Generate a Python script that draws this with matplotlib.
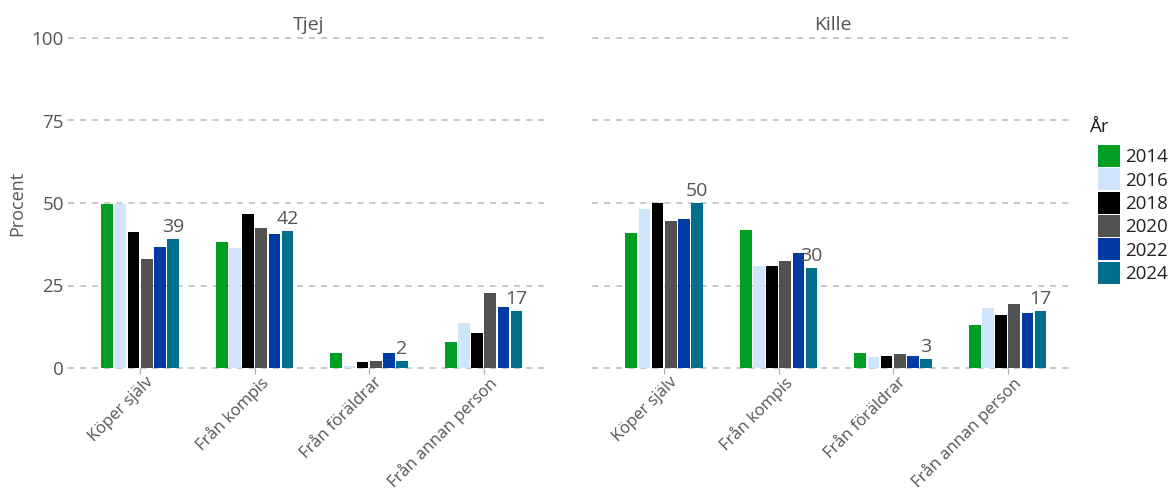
import matplotlib
matplotlib.use("Agg")
import matplotlib.pyplot as plt
import matplotlib.transforms as mtransforms
import numpy as np
from matplotlib.patches import Patch

plt.rcParams['font.family'] = ['Open Sans', 'DejaVu Sans']

categories = ["Köper själv", "Från kompis", "Från föräldrar", "Från annan person"]
years = ["2014", "2016", "2018", "2020", "2022", "2024"]
colors = ["#009e22", "#d0e5fc", "#000000", "#525252", "#003ba6", "#006f8e"]

tjej = {
    "2014": [49.7, 38.2, 4.5, 7.9],
    "2016": [49.8, 36.4, 0.6, 13.6],
    "2018": [41.1, 46.7, 1.8, 10.6],
    "2020": [33.0, 42.4, 2.1, 22.7],
    "2022": [36.7, 40.7, 4.5, 18.5],
    "2024": [39.1, 41.5, 2.1, 17.4],
}
kille = {
    "2014": [40.9, 41.8, 4.5, 13.0],
    "2016": [48.2, 30.9, 3.3, 18.2],
    "2018": [50.0, 30.9, 3.6, 16.1],
    "2020": [44.5, 32.4, 4.2, 19.4],
    "2022": [45.2, 34.8, 3.6, 16.7],
    "2024": [50.0, 30.3, 2.7, 17.3],
}
panels = [("Tjej", tjej), ("Kille", kille)]
yticks = [0, 25, 50, 75, 100]

W, H = 1172, 493
fig = plt.figure(figsize=(W / 100, H / 100), dpi=100)
bottom = 1 - 368 / H
height = (368 - 38) / H
ax_lefts = [68 / W, 592 / W]
ax_width = (549 - 68) / W

text_col = "#555555"
grid_col = "#c8c8c8"
x = np.arange(len(categories))
slot = 0.115
bw = 0.102

for i, (title, data) in enumerate(panels):
    ax = fig.add_axes([ax_lefts[i], bottom, ax_width, height])
    for j, yr in enumerate(years):
        off = (j - 2.5) * slot
        ax.bar(x + off, data[yr], width=bw, color=colors[j], zorder=3)
        if yr == "2024":
            for k, v in enumerate(data[yr]):
                ax.annotate(f"{round(v):d}", (x[k] + off, v), xytext=(0, 2),
                            textcoords="offset points", ha="center", va="bottom",
                            fontsize=14, color=text_col, zorder=5,
                            annotation_clip=False)
    ax.set_xlim(-0.63, 3.57)
    ax.set_ylim(0, 100)
    ax.set_yticks(yticks)
    for t in yticks:
        ax.axhline(t, color=grid_col, lw=1.4, ls=(0, (3.1, 3.1)), zorder=1,
                   clip_on=False)
    for s in ax.spines.values():
        s.set_visible(False)
    ax.set_xticks(x)
    ax.set_xticklabels([])
    lab_tr = ax.get_xaxis_transform() + mtransforms.ScaledTranslation(
        5 / 100, -6 / 100, fig.dpi_scale_trans)
    for k, cat in enumerate(categories):
        ax.text(x[k], 0, cat, transform=lab_tr, rotation=45, ha="right",
                va="top", rotation_mode="anchor", fontsize=12,
                color=text_col)
    ax.tick_params(axis="x", length=4, color="#aaaaaa", pad=5)
    ax.tick_params(axis="y", length=0, labelsize=13.5, labelcolor=text_col, pad=3)
    if i == 0:
        ax.set_ylabel("Procent", fontsize=13, color=text_col, labelpad=4)
    else:
        ax.set_yticklabels([])
    ax.set_title(title, fontsize=14, color=text_col, pad=6)

fig.text(1090 / W, 1 - 127 / H, "År", fontsize=13.5, color="#222222",
         ha="left", va="center")
handles = [Patch(facecolor=c, edgecolor="none") for c in colors]
leg = fig.legend(handles, years, loc="upper left",
                 bbox_to_anchor=(1098 / W, 1 - 145 / H), frameon=False,
                 fontsize=13.5, handlelength=1.17,
                 handleheight=1.43, handletextpad=0.3, labelspacing=0.07,
                 borderaxespad=0, borderpad=0)
for t in leg.get_texts():
    t.set_color("#222222")

fig.savefig("out.png", dpi=100)
